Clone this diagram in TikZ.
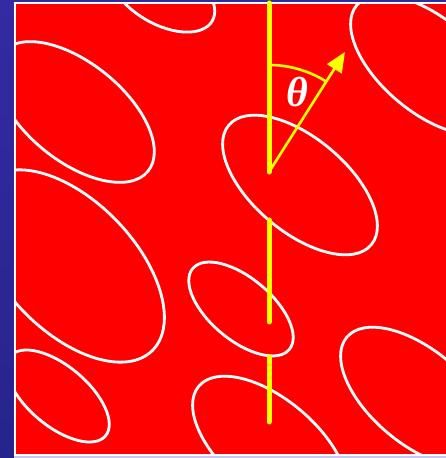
\documentclass[tikz,border=0pt]{standalone}
\usepackage{fontspec}
\newfontfamily\thetafont{Liberation Serif}
\usepackage{tikz}
\usetikzlibrary{arrows.meta}

\definecolor{slideblue}{RGB}{52,42,162}
\definecolor{slidebluedk}{RGB}{38,36,140}
\definecolor{slidelav}{RGB}{200,200,232}
\definecolor{grainred}{RGB}{255,0,0}
\definecolor{dirylw}{RGB}{255,255,0}

\tikzset{grnb/.style={draw=white,line width=2.8pt},
         grnrod/.style={dirylw,line width=5pt,line cap=round},
         grnarr/.style={dirylw,line width=2.6pt,-{Triangle[length=20pt,width=17pt]}},
         grnlab/.style={text=white,font=\thetafont\bfseries\itshape\fontsize{42}{42}\selectfont}}

\begin{document}
\begin{tikzpicture}[x=1pt,y=1pt]
    \useasboundingbox (0,0) rectangle (446,458);
    \shade[top color=slideblue,bottom color=slidebluedk] (0,0) rectangle (446,458);
    \fill[slidelav] (14,0) rectangle (446,2);
    \fill[grainred] (14,2) rectangle (450,455);
    % grains
    \begin{scope}
      \clip (15,3) rectangle (450,454);
      \foreach \x/\y/\a/\b/\r in {162/466/58/32/-30, 75/346/94/49/-39, 70/192/118/65/-46,
                                  58/62/62/30/-40, 300/273/93/47/-40, 428/393/93/47/-40,
                                  241/149/63/31/-40, 270/12/93/47/-40, 418/61/93/47/-40}
        {\draw[grnb,rotate around={\r:(\x,\y)}] (\x,\y) ellipse [x radius=\a pt, y radius=\b pt];}
    \end{scope}
    \draw[white,line width=2pt] (15,3) rectangle (452,455);
    % director
    \coordinate (pivot) at (269,286);
    \coordinate (tip) at (345,406);
    \coordinate (r1) at (269,455);
    \coordinate (r2) at (269,238); \coordinate (r3) at (269,136);
    \coordinate (r4) at (269,101); \coordinate (r5) at (269,36);
    \draw[grnrod] (r1)--(pivot); \draw[grnrod] (r2)--(r3); \draw[grnrod] (r4)--(r5);
    \draw[grnarr] (pivot)--(tip);
    \draw[dirylw,line width=2.6pt] (pivot) ++(90:107) arc (90:57.7:107);
    \node[grnlab] (theta) at (297,366) {θ};
  \end{tikzpicture}
\end{document}
